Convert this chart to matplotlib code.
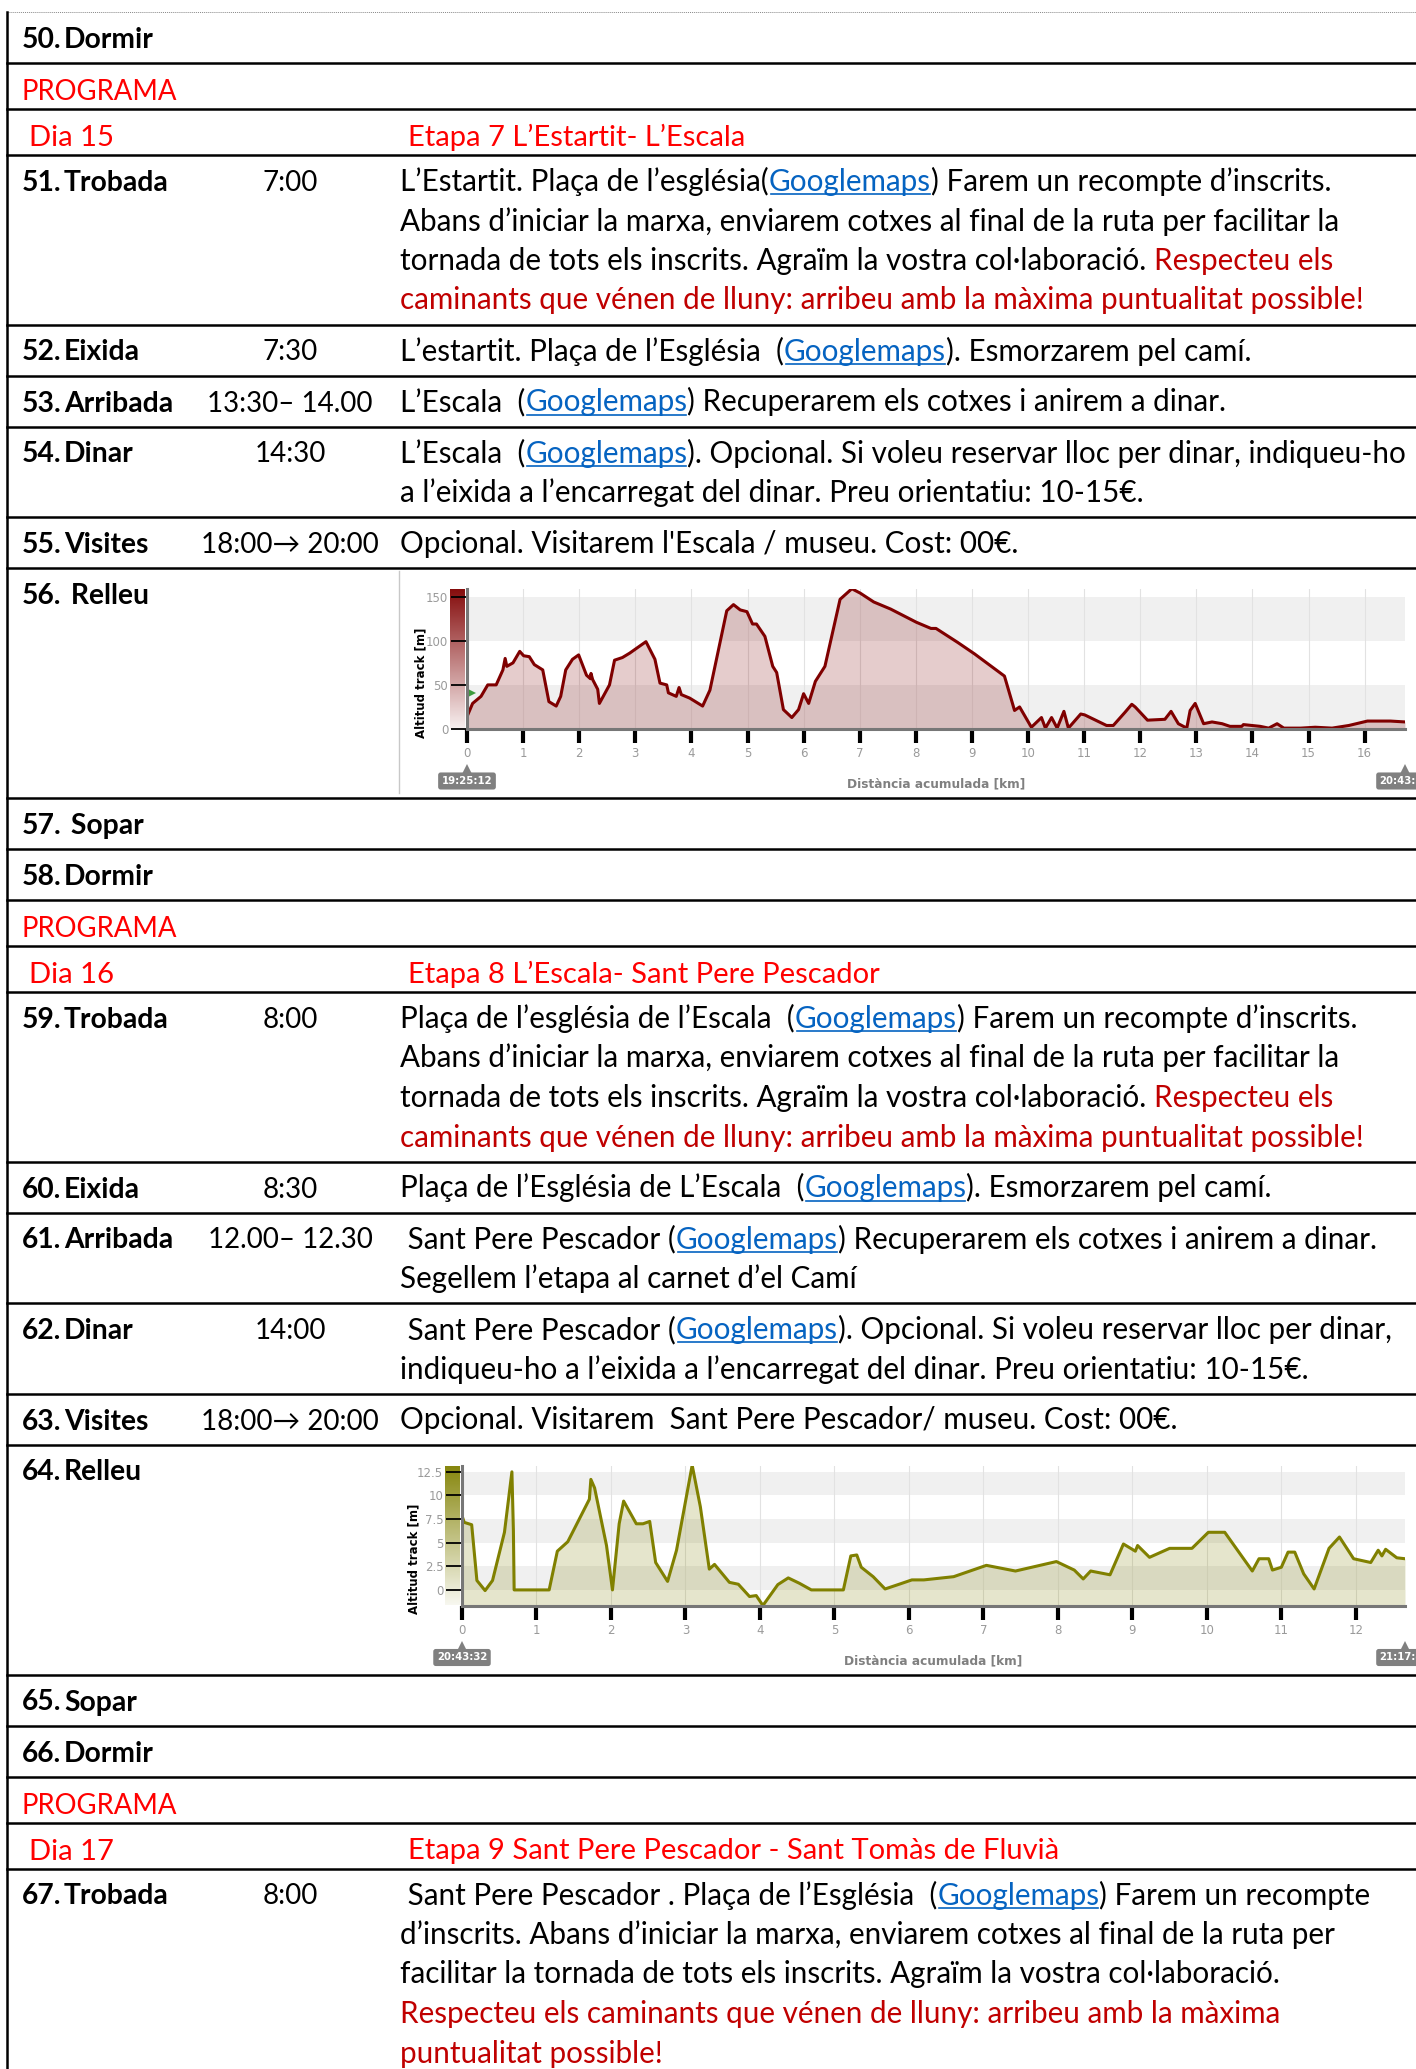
import matplotlib
matplotlib.use('Agg')
import matplotlib.pyplot as plt
import numpy as np
from matplotlib.colors import to_rgb

W, H = 1416, 2069

# elevation profile L'Estartit - L'Escala (km, m)
km_escala = [0, 0.10, 0.25, 0.37, 0.52, 0.64, 0.68, 0.71, 0.82, 0.94, 1.01, 1.11, 1.20, 1.35,
             1.46, 1.59, 1.67, 1.76, 1.88, 1.99, 2.13, 2.20, 2.21, 2.24, 2.33, 2.36, 2.54, 2.63,
             2.77, 2.90, 3.19, 3.35, 3.44, 3.56, 3.59, 3.73, 3.78, 3.82, 3.97, 4.20, 4.33, 4.63,
             4.75, 4.87, 4.99, 5.09, 5.16, 5.31, 5.45, 5.52, 5.64, 5.79, 5.91, 6.00, 6.09, 6.21,
             6.38, 6.65, 6.86, 7.01, 7.25, 7.55, 8.01, 8.27, 8.36, 8.75, 9.05, 9.58, 9.76, 9.85,
             10.06, 10.24, 10.31, 10.42, 10.52, 10.64, 10.72, 10.94, 11.01, 11.40, 11.52, 11.73,
             11.85, 11.91, 12.13, 12.44, 12.55, 12.68, 12.83, 12.89, 12.98, 13.13, 13.28, 13.46,
             13.60, 13.81, 13.84, 14.14, 14.29, 14.44, 14.56, 14.86, 15.12, 15.42, 15.72, 16.05,
             16.46, 16.72]
alt_escala = [14, 29, 37, 50, 50, 67, 80, 71, 75, 88, 83, 82, 73, 67, 31, 26, 37, 67, 79, 84,
              61, 57, 63, 56, 45, 29, 50, 78, 81, 86, 99, 79, 52, 50, 41, 37, 47, 39, 35, 26,
              44, 134, 141, 135, 133, 119, 119, 105, 71, 64, 22, 13, 22, 40, 29, 54, 71, 147,
              159, 154, 144, 136, 121, 114, 114, 98, 85, 60, 21, 25, 2, 13, 1, 13, 1, 20, 1, 17,
              16, 4, 4, 19, 28, 25, 10, 11, 20, 6, 1, 21, 29, 6, 8, 6, 3, 3, 5, 3, 1, 6, 1, 1,
              2, 1, 4, 9, 9, 8]
ticks_escala = [0, 50, 100, 150]
labels_escala = ['0', '50', '100', '150']
flag_escala = 41

# elevation profile L'Escala - Sant Pere Pescador (km, m)
km_pescador = [0, 0.03, 0.13, 0.20, 0.31, 0.41, 0.57, 0.67, 0.69, 0.70, 1.17, 1.28, 1.42, 1.71,
               1.73, 1.78, 1.94, 2.02, 2.11, 2.17, 2.34, 2.43, 2.52, 2.60, 2.76, 2.88, 3.09, 3.20,
               3.32, 3.39, 3.59, 3.71, 3.86, 3.95, 4.04, 4.24, 4.38, 4.53, 4.69, 5.12, 5.22, 5.30,
               5.36, 5.52, 5.68, 5.88, 6.04, 6.20, 6.60, 7.04, 7.43, 7.98, 8.22, 8.34, 8.44, 8.70,
               8.88, 9.04, 9.07, 9.23, 9.50, 9.80, 10.02, 10.24, 10.61, 10.70, 10.83, 10.88, 11.00,
               11.09, 11.18, 11.30, 11.44, 11.64, 11.78, 11.97, 12.20, 12.30, 12.35, 12.40, 12.55,
               12.66]
alt_pescador = [7.85, 7.15, 6.9, 1.0, -0.07, 1.0, 6.1, 12.5, 6.3, 0, 0, 4.1, 5.1, 9.6, 11.7, 10.8,
                4.7, 0, 7.0, 9.4, 7.0, 7.0, 7.25, 2.9, 0.9, 4.2, 13.2, 8.8, 2.2, 2.7, 0.8, 0.6,
                -0.7, -0.6, -1.65, 0.56, 1.27, 0.7, 0, 0, 3.6, 3.7, 2.4, 1.4, 0.1, 0.63, 1.06,
                1.06, 1.4, 2.6, 2.0, 3.0, 2.1, 1.16, 2.0, 1.6, 4.86, 4.1, 4.7, 3.45, 4.4, 4.4,
                6.1, 6.1, 2.0, 3.3, 3.3, 2.1, 2.4, 4.0, 4.0, 1.7, 0.1, 4.4, 5.6, 3.3, 2.9, 4.2,
                3.6, 4.3, 3.4, 3.3]
ticks_pescador = [0, 2.5, 5, 7.5, 10, 12.5]
labels_pescador = ['0', '2.5', '5', '7.5', '10', '12.5']

# table text
N, L, R = 'text', 'link', 'red'
rows = [
    ('item', '50.', 'Dormir', '', []),
    ('programa',),
    ('dia', 'Dia 15', 'Etapa 7 L’Estartit- L’Escala'),
    ('item', '51.', 'Trobada', '7:00', [
        [('L’Estartit. Plaça de l’església(', N), ('Googlemaps', L), (') Farem un recompte d’inscrits.', N)],
        [('Abans d’iniciar la marxa, enviarem cotxes al final de la ruta per facilitar la', N)],
        [('tornada de tots els inscrits. Agraïm la vostra col·laboració. ', N), ('Respecteu els', R)],
        [('caminants que vénen de lluny: arribeu amb la màxima puntualitat possible!', R)]]),
    ('item', '52.', 'Eixida', '7:30', [
        [('L’estartit. Plaça de l’Església  (', N), ('Googlemaps', L), ('). Esmorzarem pel camí.', N)]]),
    ('item', '53.', 'Arribada', '13:30– 14.00', [
        [('L’Escala  (', N), ('Googlemaps', L), (') Recuperarem els cotxes i anirem a dinar.', N)]]),
    ('item', '54.', 'Dinar', '14:30', [
        [('L’Escala  (', N), ('Googlemaps', L), ('). Opcional. Si voleu reservar lloc per dinar, indiqueu-ho', N)],
        [('a l’eixida a l’encarregat del dinar. Preu orientatiu: 10-15€.', N)]]),
    ('item', '55.', 'Visites', '18:00→ 20:00', [
        [("Opcional. Visitarem l'Escala / museu. Cost: 00€.", N)]]),
    ('chart', '56.', ' Relleu', 'escala'),
    ('item', '57.', ' Sopar', '', []),
    ('item', '58.', 'Dormir', '', []),
    ('programa',),
    ('dia', 'Dia 16', 'Etapa 8 L’Escala- Sant Pere Pescador'),
    ('item', '59.', 'Trobada', '8:00', [
        [('Plaça de l’església de l’Escala  (', N), ('Googlemaps', L), (') Farem un recompte d’inscrits.', N)],
        [('Abans d’iniciar la marxa, enviarem cotxes al final de la ruta per facilitar la', N)],
        [('tornada de tots els inscrits. Agraïm la vostra col·laboració. ', N), ('Respecteu els', R)],
        [('caminants que vénen de lluny: arribeu amb la màxima puntualitat possible!', R)]]),
    ('item', '60.', 'Eixida', '8:30', [
        [('Plaça de l’Església de L’Escala  (', N), ('Googlemaps', L), ('). Esmorzarem pel camí.', N)]]),
    ('item', '61.', 'Arribada', '12.00– 12.30', [
        [(' Sant Pere Pescador (', N), ('Googlemaps', L), (') Recuperarem els cotxes i anirem a dinar.', N)],
        [('Segellem l’etapa al carnet d’el Camí', N)]]),
    ('item', '62.', 'Dinar', '14:00', [
        [(' Sant Pere Pescador (', N), ('Googlemaps', L), ('). Opcional. Si voleu reservar lloc per dinar,', N)],
        [('indiqueu-ho a l’eixida a l’encarregat del dinar. Preu orientatiu: 10-15€.', N)]]),
    ('item', '63.', 'Visites', '18:00→ 20:00', [
        [('Opcional. Visitarem  Sant Pere Pescador/ museu. Cost: 00€.', N)]]),
    ('chart', '64.', 'Relleu', 'pescador'),
    ('item', '65.', 'Sopar', '', []),
    ('item', '66.', 'Dormir', '', []),
    ('programa',),
    ('dia', 'Dia 17', 'Etapa 9 Sant Pere Pescador - Sant Tomàs de Fluvià'),
    ('item', '67.', 'Trobada', '8:00', [
        [(' Sant Pere Pescador . Plaça de l’Església  (', N), ('Googlemaps', L), (') Farem un recompte', N)],
        [('d’inscrits. Abans d’iniciar la marxa, enviarem cotxes al final de la ruta per', N)],
        [('facilitar la tornada de tots els inscrits. Agraïm la vostra col·laboració.', N)],
        [('Respecteu els caminants que vénen de lluny: arribeu amb la màxima', R)],
        [('puntualitat possible!', R)]]),
]

COLORS = {N: 'black', L: '#0563c1', R: '#c00000'}
FAMILY = ['Lato', 'DejaVu Sans']
FONT = dict(family=FAMILY, fontsize=21.3)
LABEL = dict(family=FAMILY, fontsize=20.3, weight='bold')

fig = plt.figure(figsize=(W / 100, H / 100), dpi=100)
page = fig.add_axes([0, 0, 1, 1])
page.set_xlim(0, W)
page.set_ylim(H, 0)
page.axis('off')
page.set_zorder(0)
renderer = fig.canvas.get_renderer()


def width(s, **kw):
    t = page.text(0, 0, s, **kw)
    w = t.get_window_extent(renderer).width
    t.remove()
    return w


def draw_line(x, y, segs):
    done = ''
    bar = width('|', **FONT)
    for s, style in segs:
        x0 = x + width(done + '|', **FONT) - bar if done else x
        page.text(x0, y, s, color=COLORS[style], va='baseline', **FONT)
        if style == L:
            x1 = x + width(done + s + '|', **FONT) - bar
            page.plot([x0 + 2, x1 - 1], [y + 3, y + 3], color=COLORS[L], lw=1.2)
        done += s


def profile(row_top, km, alt, color, yticks, ylabels, ymin, ymax, left, t0, t1, lab_x, flag=None):
    top, bottom, right = row_top + 21, row_top + 161, 1405
    ax = fig.add_axes([left / W, 1 - bottom / H, (right - left) / W, (bottom - top) / H])
    ax.set_zorder(2)
    xmax = km[-1]
    ax.set_xlim(0, xmax)
    ax.set_ylim(ymin, ymax)
    step = yticks[1] - yticks[0]
    for v in yticks[::2]:
        ax.axhspan(v, v + step, color='#f0f0f0', lw=0, zorder=0)
    for k in range(int(xmax) + 1):
        ax.axvline(k, color='#e2e2e2', lw=0.8, zorder=0.5)
    ax.fill_between(km, alt, ymin, color=color, alpha=0.2, lw=0, zorder=1)
    ax.plot(km, alt, color=color, lw=2.2, zorder=2)
    if flag is not None:
        ax.plot(0.09, flag, marker='>', color='#3c9a3c', ms=6, mew=0, zorder=3, clip_on=False)
    for side in ['top', 'right']:
        ax.spines[side].set_visible(False)
    for side in ['left', 'bottom']:
        ax.spines[side].set_color('#777777')
        ax.spines[side].set_linewidth(2.2)
        ax.spines[side].set_zorder(4)
    ax.set_xticks(range(int(xmax) + 1))
    ax.set_yticks(yticks)
    ax.set_yticklabels(ylabels)
    ax.tick_params(axis='x', direction='out', length=10, width=3, color='black',
                   labelcolor='#9a9a9a', labelsize=8.5, pad=3)
    ax.tick_params(axis='y', direction='out', length=11.5, width=1.3, color='black',
                   labelcolor='#9a9a9a', labelsize=8.5, pad=2)
    ax.set_ylabel('Altitud track [m]', fontsize=8.5, weight='bold')
    ax.yaxis.set_label_coords(lab_x, 0.33)

    # colour scale bar left of the axis
    bar = fig.add_axes([(left - 17) / W, 1 - bottom / H, 15 / W, (bottom - top) / H])
    bar.set_zorder(1)
    g = np.linspace(0.95, 0.06, 120)[:, None, None]
    img = 1 - g * (1 - np.array(to_rgb(color)))[None, None, :]
    bar.imshow(np.repeat(img, 2, axis=1), aspect='auto')
    bar.axis('off')

    # time stamps at both ends and axis title
    for k, t in [(0, t0), (xmax, t1)]:
        px = left + k / xmax * (right - left)
        page.plot(px, bottom + 40, marker='^', ms=7, color='#808080', mew=0)
        page.text(px, bottom + 52, t, ha='center', va='center', color='white', fontsize=7.3,
                  weight='bold', family='DejaVu Sans',
                  bbox=dict(boxstyle='round,pad=0.35,rounding_size=0.25', fc='#808080', ec='none'))
    page.text((left + right) / 2, bottom + 55, 'Distància acumulada [km]', ha='center',
              va='center', fontsize=8.7, weight='bold', color='#808080', family='DejaVu Sans')


charts = {
    'escala': dict(km=km_escala, alt=alt_escala, color='#7f0000', yticks=ticks_escala,
                   ylabels=labels_escala, ymin=0, ymax=158.7, left=467,
                   t0='19:25:12', t1='20:43:31', lab_x=-0.042, flag=flag_escala),
    'pescador': dict(km=km_pescador, alt=alt_pescador, color='#808000', yticks=ticks_pescador,
                     ylabels=labels_pescador, ymin=-1.65, ymax=13.17, left=462,
                     t0='20:43:32', t1='21:17:40', lab_x=-0.044),
}

# table
page.plot([7, W], [12, 12], color='#888888', lw=0.7, ls=(0, (1, 1)))
page.plot([7, 7], [12, H], color='black', lw=1.8)
y = 12
for row in rows:
    kind = row[0]
    base = y + 36
    if kind == 'item':
        _, num, label, time, body = row
        h = 51 + 39.5 * (max(1, len(body)) - 1)
        page.text(22, base, num, va='baseline', **LABEL)
        page.text(64, base, label, va='baseline', **LABEL)
        page.text(290, base, time, ha='center', va='baseline', family=FAMILY, fontsize=20)
        for i, segs in enumerate(body):
            draw_line(400, base + 39.5 * i, segs)
    elif kind == 'programa':
        h = 46
        page.text(22, y + 37, 'PROGRAMA', color='#ff0000', va='baseline',
                  family=FAMILY, fontsize=19.8)
    elif kind == 'dia':
        h = 46
        page.text(29, y + 37, row[1], color='#ff0000', va='baseline',
                  family=FAMILY, fontsize=21)
        page.text(408, y + 37, row[2], color='#ff0000', va='baseline',
                  family=FAMILY, fontsize=21)
    else:
        h = 230
        page.text(22, base, row[1], va='baseline', **LABEL)
        page.text(64, base, row[2], va='baseline', **LABEL)
        if row[3] == 'escala':
            page.plot([399, 399], [y + 3, y + 225], color='#c8c8c8', lw=1)
        profile(y, **charts[row[3]])
    y += h
    if y < H:
        page.plot([7, W], [y, y], color='black', lw=1.8)

fig.savefig('out.png', dpi=100)
